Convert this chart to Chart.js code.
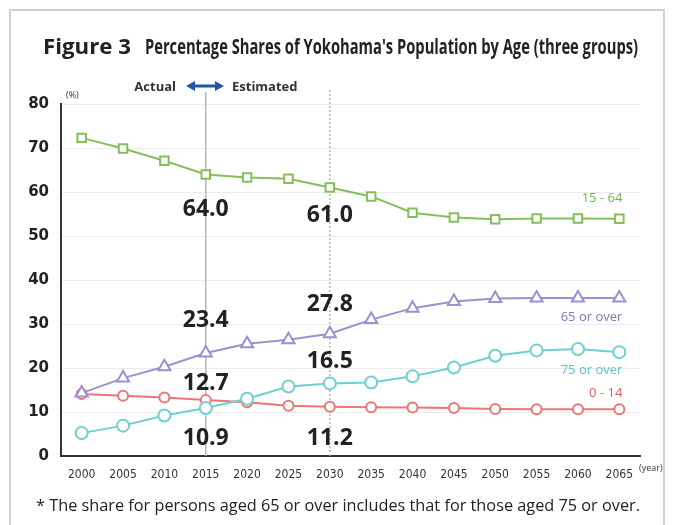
<!DOCTYPE html>
<html>
<head>
<meta charset="utf-8">
<script src="https://cdn.jsdelivr.net/npm/chart.js@4"></script>
<style>
  html, body { margin: 0; padding: 0; background: #fff; }
  canvas { display: block; }
</style>
</head>
<body>
<canvas id="chart" width="673" height="525"></canvas>
<script>
const years = ['2000', '2005', '2010', '2015', '2020', '2025', '2030', '2035', '2040', '2045', '2050', '2055', '2060', '2065'];
const age15to64 = [72.3, 69.9, 67.1, 64.0, 63.3, 63.0, 61.0, 59.0, 55.3, 54.2, 53.8, 54.0, 54.0, 53.9];
const age65over = [14.3, 17.7, 20.3, 23.4, 25.5, 26.4, 27.8, 31.0, 33.6, 35.1, 35.8, 35.9, 35.9, 35.9];
const age75over = [5.2, 6.9, 9.2, 10.9, 13.0, 15.8, 16.5, 16.7, 18.1, 20.1, 22.8, 24.0, 24.3, 23.6];
const age0to14 = [14.1, 13.7, 13.3, 12.7, 12.2, 11.4, 11.2, 11.1, 11.0, 10.9, 10.7, 10.6, 10.6, 10.6];

// value labels: text, year index, value where the label sits
const noteText = ['64.0', '61.0', '23.4', '27.8', '12.7', '16.5', '10.9', '11.2'];
const noteIndex = [3, 6, 3, 6, 3, 6, 3, 6];
const noteAt = [56.0, 54.6, 30.9, 34.5, 16.6, 21.4, 4.0, 4.0];

const green = '#84c05a';
const purple = '#9a90d2';
const cyan = '#6fd0cf';
const red = '#ea7676';

function squeezeText(ctx, text, x, y, width) {
    const w = ctx.measureText(text).width;
    ctx.save();
    ctx.translate(x, y);
    ctx.scale(width / w, 1);
    ctx.fillText(text, 0, 0);
    ctx.restore();
}

const decorations = {
    id: 'decorations',
    beforeDraw(chart) {
        const ctx = chart.ctx;
        ctx.save();
        ctx.fillStyle = '#fff';
        ctx.fillRect(0, 0, chart.width, chart.height);
        ctx.strokeStyle = '#cfcfcf';
        ctx.lineWidth = 2;
        ctx.beginPath();
        ctx.moveTo(10, 530);
        ctx.lineTo(10, 10);
        ctx.lineTo(664, 10);
        ctx.lineTo(664, 530);
        ctx.stroke();
        ctx.restore();
    },
    beforeDatasetsDraw(chart) {
        const ctx = chart.ctx;
        const x = chart.scales.x;
        const bottom = chart.chartArea.bottom;
        ctx.save();
        ctx.strokeStyle = '#b8b8b8';
        ctx.lineWidth = 1.5;
        ctx.beginPath();
        ctx.moveTo(x.getPixelForValue(3), 92);
        ctx.lineTo(x.getPixelForValue(3), bottom);
        ctx.stroke();
        ctx.setLineDash([2, 2]);
        ctx.beginPath();
        ctx.moveTo(x.getPixelForValue(6), 90);
        ctx.lineTo(x.getPixelForValue(6), bottom);
        ctx.stroke();
        ctx.restore();
    },
    afterDatasetsDraw(chart) {
        const ctx = chart.ctx;
        const xs = chart.scales.x;
        const ys = chart.scales.y;
        ctx.save();
        // title
        ctx.fillStyle = '#222';
        ctx.textBaseline = 'alphabetic';
        ctx.textAlign = 'left';
        ctx.font = 'bold 22px "Open Sans"';
        squeezeText(ctx, 'Figure 3', 43, 54, 88);
        ctx.font = 'bold 22px "Open Sans"';
        squeezeText(ctx, "Percentage Shares of Yokohama's Population by Age (three groups)", 145, 54, 493);

        // actual / estimated
        ctx.font = 'bold 13px "Open Sans"';
        ctx.fillStyle = '#333';
        ctx.textAlign = 'right';
        ctx.fillText('Actual', 176, 91);
        ctx.textAlign = 'left';
        ctx.fillText('Estimated', 232, 91);
        ctx.fillStyle = '#1f56a8';
        ctx.strokeStyle = '#1f56a8';
        ctx.lineWidth = 3;
        ctx.beginPath();
        ctx.moveTo(193, 86);
        ctx.lineTo(217, 86);
        ctx.stroke();
        ctx.beginPath();
        ctx.moveTo(186, 86); ctx.lineTo(195, 81); ctx.lineTo(195, 91); ctx.closePath();
        ctx.moveTo(224, 86); ctx.lineTo(215, 81); ctx.lineTo(215, 91); ctx.closePath();
        ctx.fill();

        // units
        ctx.fillStyle = '#333';
        ctx.font = '9px "Open Sans"';
        ctx.fillText('(%)', 66, 98);
        ctx.fillText('(year)', 639, 471);

        // value labels
        ctx.font = 'bold 23px "Open Sans"';
        ctx.fillStyle = '#222';
        ctx.textAlign = 'center';
        ctx.textBaseline = 'middle';
        noteText.forEach((t, i) => {
            ctx.fillText(t, xs.getPixelForValue(noteIndex[i]), ys.getPixelForValue(noteAt[i]));
        });

        // series names
        ctx.font = '13px "Open Sans"';
        ctx.textAlign = 'right';
        const right = xs.getPixelForValue(13) + 3;
        ctx.fillStyle = '#72b548';
        ctx.fillText('15 - 64', right, 198);
        ctx.fillStyle = '#8077be';
        ctx.fillText('65 or over', right, 317);
        ctx.fillStyle = '#55c3c2';
        ctx.fillText('75 or over', right, 370);
        ctx.fillStyle = '#e45c5c';
        ctx.fillText('0 - 14', right, 393);

        // footnote
        ctx.fillStyle = '#222';
        ctx.textAlign = 'left';
        ctx.textBaseline = 'alphabetic';
        ctx.font = '17px "Open Sans"';
        squeezeText(ctx, '* The share for persons aged 65 or over includes that for those aged 75 or over.', 36, 511, 604);
        ctx.restore();
    }
};

function series(label, data, color, style, radius) {
    return {
        label: label,
        data: data,
        borderColor: color,
        borderWidth: 2,
        pointStyle: style,
        pointRadius: radius,
        pointBorderWidth: 2,
        pointBorderColor: color,
        pointBackgroundColor: '#fff',
        tension: 0
    };
}

new Chart(document.getElementById('chart'), {
    type: 'line',
    data: {
        labels: years,
        datasets: [
            series('15 - 64', age15to64, green, 'rect', 6),
            series('65 or over', age65over, purple, 'triangle', 7),
            series('75 or over', age75over, cyan, 'circle', 6),
            series('0 - 14', age0to14, red, 'circle', 5)
        ]
    },
    options: {
        responsive: false,
        animation: false,
        devicePixelRatio: 1,
        layout: { padding: { left: 20, right: 33, top: 104, bottom: 0 } },
        plugins: {
            legend: { display: false },
            tooltip: { enabled: false }
        },
        scales: {
            x: {
                offset: true,
                afterFit(scale) { scale.height = 69; },
                grid: { display: false, drawTicks: false },
                border: { color: '#333', width: 2 },
                ticks: {
                    padding: 12,
                    color: '#333',
                    maxRotation: 0,
                    autoSkip: false,
                    font: { family: '"Liberation Sans Narrow", "DejaVu Sans Condensed", sans-serif', size: 12 }
                }
            },
            y: {
                min: 0,
                max: 80,
                afterFit(scale) { scale.width = 41; },
                grid: { color: '#ececec', drawTicks: false },
                border: { color: '#333', width: 2 },
                ticks: {
                    stepSize: 10,
                    padding: 12,
                    color: '#222',
                    font: { family: '"DejaVu Sans"', size: 15, weight: 'bold' }
                }
            }
        }
    },
    plugins: [decorations]
});
</script>
</body>
</html>
